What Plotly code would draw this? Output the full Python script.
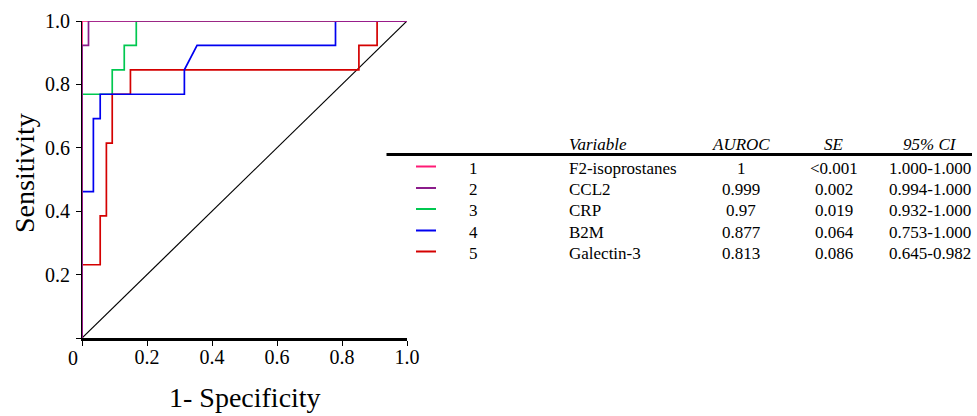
import plotly.graph_objects as go

# ---------------- data ----------------
variables = ["F2-isoprostanes", "CCL2", "CRP", "B2M", "Galectin-3"]
numbers = ["1", "2", "3", "4", "5"]
auroc = ["1", "0.999", "0.97", "0.877", "0.813"]
se = ["<0.001", "0.002", "0.019", "0.064", "0.086"]
ci95 = ["1.000-1.000", "0.994-1.000", "0.932-1.000", "0.753-1.000", "0.645-0.982"]
colors = ["#FF1A75", "#8B1C8B", "#00C850", "#0000F0", "#D40000"]

# ROC curves (1-specificity, sensitivity)
fpr_f2 = [0, 0, 1]
tpr_f2 = [0, 1, 1]
fpr_ccl2 = [0, 0, 0.02, 0.02, 1]
tpr_ccl2 = [0, 0.923, 0.923, 1, 1]
fpr_crp = [0, 0, 0.093, 0.093, 0.13, 0.13, 0.167, 0.167, 1]
tpr_crp = [0, 0.769, 0.769, 0.846, 0.846, 0.923, 0.923, 1, 1]
fpr_b2m = [0, 0, 0.035, 0.035, 0.056, 0.056, 0.315, 0.315, 0.354, 0.78, 0.78, 1]
tpr_b2m = [0, 0.462, 0.462, 0.692, 0.692, 0.769, 0.769, 0.846, 0.923, 0.923, 1, 1]
fpr_gal = [0, 0, 0.056, 0.056, 0.075, 0.075, 0.093, 0.093, 0.149, 0.149, 0.852, 0.852, 0.908, 0.908, 1]
tpr_gal = [0, 0.231, 0.231, 0.385, 0.385, 0.615, 0.615, 0.769, 0.769, 0.846, 0.846, 0.923, 0.923, 1, 1]
diag = [0, 1]

x_ticks = [0, 0.2, 0.4, 0.6, 0.8, 1.0]
x_ticktext = ["", "0.2", "0.4", "0.6", "0.8", "1.0"]
y_ticks = [0, 0.2, 0.4, 0.6, 0.8, 1.0]
y_ticktext = ["", "0.2", "0.4", "0.6", "0.8", "1.0"]
x_title = "1- Specificity"
y_title = "Sensitivity"

# ---------------- layout geometry ----------------
W, H = 977, 416
PL, PR, PT, PB = 82, 407, 21, 338
FONT = "Liberation Serif"


def pxx(px):
    return (px - PL) / (PR - PL)


def pxy(py):
    return (PB - py) / (PB - PT)


fig = go.Figure()
fig.add_trace(go.Scatter(x=diag, y=diag, mode="lines",
                         line=dict(color="black", width=1.2), hoverinfo="skip"))

series = [
    (fpr_crp, tpr_crp, 2),
    (fpr_gal, tpr_gal, 4),
    (fpr_b2m, tpr_b2m, 3),
    (fpr_f2, tpr_f2, 0),
    (fpr_ccl2, tpr_ccl2, 1),
]
for fx, ty, i in series:
    fig.add_trace(go.Scatter(x=fx, y=ty, mode="lines", name=variables[i],
                             line=dict(color=colors[i], width=1.7)))

annotations = []
shapes = []

# origin label
annotations.append(dict(x=pxx(72.5), y=pxy(358), xref="paper", yref="paper",
                        text="0", showarrow=False, xanchor="center", yanchor="middle",
                        font=dict(family=FONT, size=20, color="black")))
# axis titles
annotations.append(dict(x=pxx(245), y=pxy(397), xref="paper", yref="paper",
                        text=x_title, showarrow=False, xanchor="center", yanchor="middle",
                        font=dict(family=FONT, size=28, color="black")))
annotations.append(dict(x=pxx(24), y=pxy(173), xref="paper", yref="paper",
                        text=y_title, showarrow=False, xanchor="center", yanchor="middle",
                        textangle=-90,
                        font=dict(family=FONT, size=28, color="black")))

# table
tfont = dict(family=FONT, size=17, color="black")
hfont = dict(family=FONT, size=17, color="black", style="italic")
header_y = 144.5
row_y = [168, 189.5, 210.5, 232, 253]
col_num = 473
col_var = 567
col_auc = 741
col_se = 834
col_ci = 930

annotations.append(dict(x=pxx(col_var), y=pxy(header_y), xref="paper", yref="paper",
                        text="Variable", showarrow=False, xanchor="left", yanchor="middle", font=hfont))
for txt, cx in [("AUROC", col_auc), ("SE", col_se), ("95% CI", col_ci)]:
    annotations.append(dict(x=pxx(cx), y=pxy(header_y), xref="paper", yref="paper",
                            text=txt, showarrow=False, xanchor="center", yanchor="middle", font=hfont))

shapes.append(dict(type="line", xref="paper", yref="paper",
                   x0=pxx(386.5), x1=pxx(972), y0=pxy(154.5), y1=pxy(154.5),
                   line=dict(color="black", width=3)))

for i in range(len(variables)):
    ry = row_y[i]
    shapes.append(dict(type="line", xref="paper", yref="paper",
                       x0=pxx(416), x1=pxx(436), y0=pxy(ry - 1.5), y1=pxy(ry - 1.5),
                       line=dict(color=colors[i], width=2)))
    annotations.append(dict(x=pxx(col_num), y=pxy(ry), xref="paper", yref="paper",
                            text=numbers[i], showarrow=False, xanchor="center", yanchor="middle", font=tfont))
    annotations.append(dict(x=pxx(col_var), y=pxy(ry), xref="paper", yref="paper",
                            text=variables[i], showarrow=False, xanchor="left", yanchor="middle", font=tfont))
    annotations.append(dict(x=pxx(col_auc), y=pxy(ry), xref="paper", yref="paper",
                            text=auroc[i], showarrow=False, xanchor="center", yanchor="middle", font=tfont))
    annotations.append(dict(x=pxx(col_se), y=pxy(ry), xref="paper", yref="paper",
                            text=se[i].replace("<", "&lt;"), showarrow=False, xanchor="center",
                            yanchor="middle", font=tfont))
    annotations.append(dict(x=pxx(col_ci), y=pxy(ry), xref="paper", yref="paper",
                            text=ci95[i], showarrow=False, xanchor="center", yanchor="middle", font=tfont))

fig.update_layout(
    width=W, height=H,
    margin=dict(l=PL, r=W - PR, t=PT, b=H - PB, pad=0, autoexpand=False),
    paper_bgcolor="white", plot_bgcolor="white",
    showlegend=False,
    font=dict(family=FONT, color="black"),
    annotations=annotations,
    shapes=shapes,
    xaxis=dict(range=[0, 1], tickvals=x_ticks, ticktext=x_ticktext, automargin=False,
               showgrid=False, zeroline=False, showline=True, linecolor="black", linewidth=3,
               ticks="outside", ticklen=5, tickwidth=1.3, tickcolor="black",
               ticklabelstandoff=-6,
               tickfont=dict(family=FONT, size=20, color="black")),
    yaxis=dict(range=[0, 1], tickvals=y_ticks, ticktext=y_ticktext, automargin=False,
               showgrid=False, zeroline=False, showline=True, linecolor="black", linewidth=1,
               layer="below traces",
               ticks="outside", ticklen=5, tickwidth=1.3, tickcolor="black",
               ticklabelstandoff=2,
               tickfont=dict(family=FONT, size=20, color="black")),
)

fig.write_html("out.html", config={"displayModeBar": False},
               post_script="document.body.style.margin='0';")
